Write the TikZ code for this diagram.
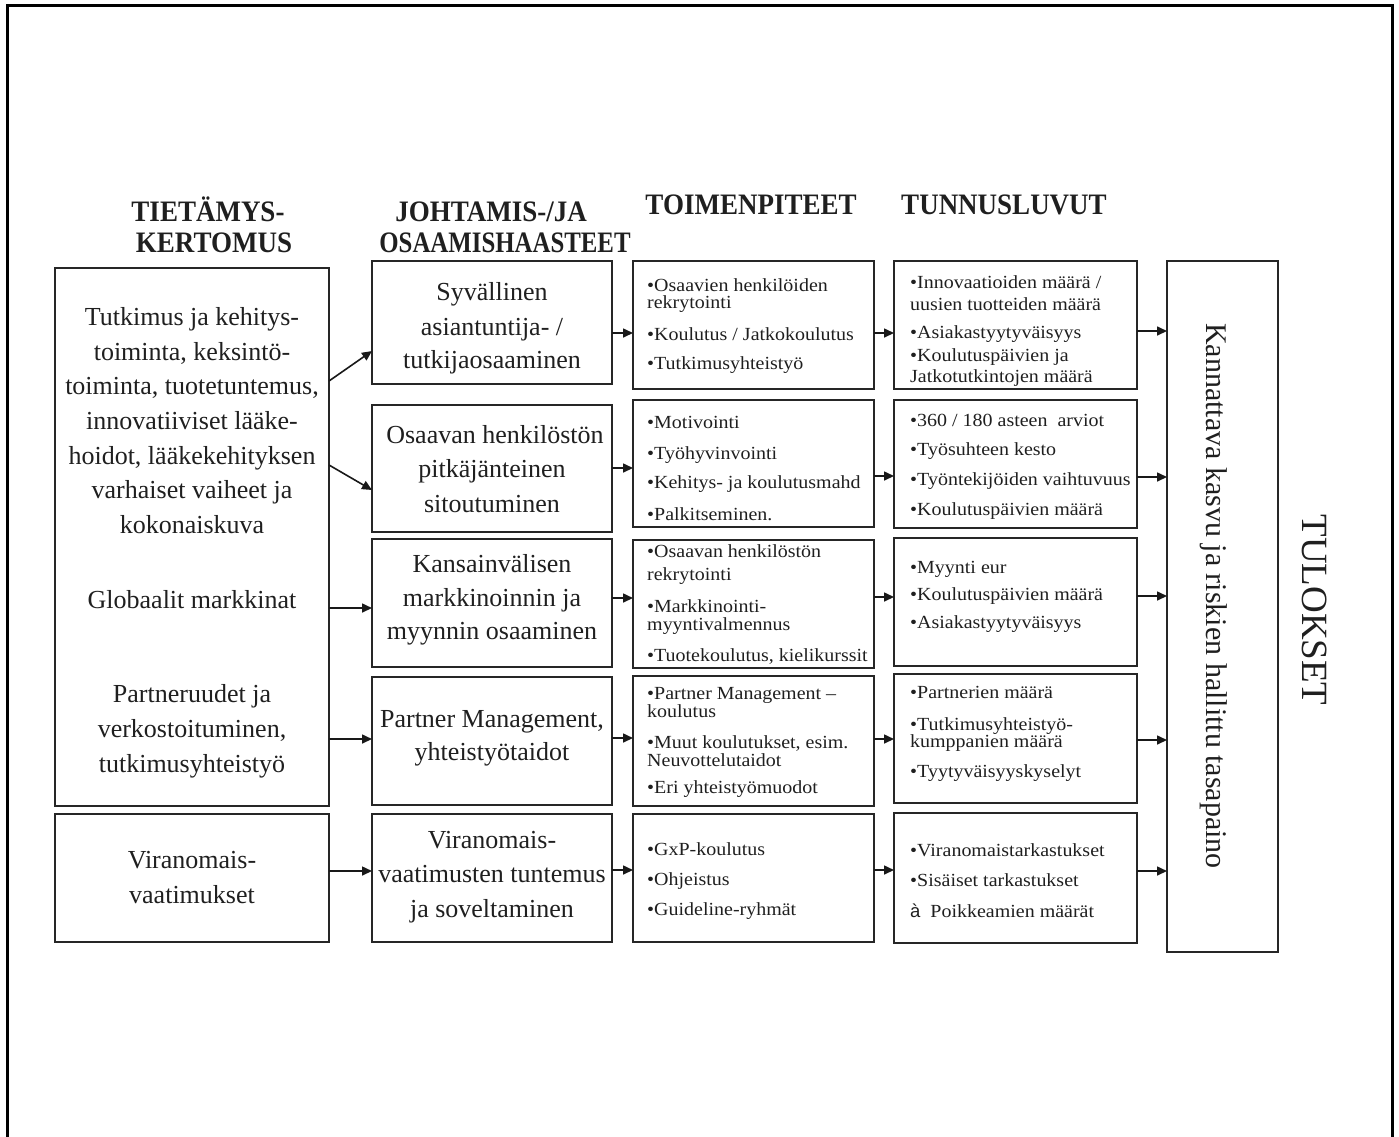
\documentclass[tikz,border=0pt]{standalone}
\usepackage{fontspec}
\setmainfont{Liberation Serif}
\newfontfamily\sansf{Liberation Sans}
\newfontfamily\lstfont[FakeStretch=1.08]{Liberation Serif}
\usetikzlibrary{arrows.meta}

\begin{document}
\begin{tikzpicture}[x=1pt,y=-1pt,
  box/.style={draw=black!85, line width=1.4pt, inner sep=0pt, outer sep=0pt},
  arr/.style={draw=black!90, line width=1.6pt, -{Triangle[length=10pt,width=9pt]}},
  big/.style={font=\fontsize{26}{30}\selectfont, text=black!88, anchor=base, inner sep=0pt},
  lst/.style={font=\lstfont\fontsize{18.5}{20}\selectfont, text=black!88, anchor=base west, inner sep=0pt},
  head/.style={font=\bfseries\fontsize{27}{32}\selectfont, text=black!88, anchor=base, inner sep=0pt},
]
\useasboundingbox (0,0) rectangle (1399,1136);

% outer frame (open at the bottom)
\draw[line width=3pt, line cap=rect] (7,1140) -- (7,5) -- (1392,5) -- (1392,1140);

% column headings
\node[head] (h1a) at (208,221) {\scalebox{1}[1.1]{TIETÄMYS-}};
\node[head] (h1b) at (214,252) {\scalebox{1}[1.1]{KERTOMUS}};
\node[head] (h2a) at (491,221) {\scalebox{1}[1.1]{JOHTAMIS-/JA}};
\node[head] (h2b) at (505,252) {\scalebox{0.92}[1.1]{OSAAMISHAASTEET}};
\node[head] (h3) at (751,214) {\scalebox{1}[1.1]{TOIMENPITEET}};
\node[head] (h4) at (1004,214) {\scalebox{1}[1.1]{TUNNUSLUVUT}};

% column 1
\node[box, minimum width=274pt, minimum height=538pt] (k1) at (192,537) {};
\node[box, minimum width=274pt, minimum height=128pt] (k2) at (192,878) {};
% column 2
\node[box, minimum width=240pt, minimum height=123pt] (c2a) at (492,322.5) {};
\node[box, minimum width=240pt, minimum height=127pt] (c2b) at (492,468.5) {};
\node[box, minimum width=240pt, minimum height=128pt] (c2c) at (492,603) {};
\node[box, minimum width=240pt, minimum height=128pt] (c2d) at (492,741) {};
\node[box, minimum width=240pt, minimum height=128pt] (c2e) at (492,878) {};
% column 3
\node[box, minimum width=241pt, minimum height=128pt] (c3a) at (753.5,325) {};
\node[box, minimum width=241pt, minimum height=127pt] (c3b) at (753.5,463.5) {};
\node[box, minimum width=241pt, minimum height=128pt] (c3c) at (753.5,604) {};
\node[box, minimum width=241pt, minimum height=130pt] (c3d) at (753.5,741) {};
\node[box, minimum width=241pt, minimum height=128pt] (c3e) at (753.5,878) {};
% column 4
\node[box, minimum width=243pt, minimum height=128pt] (c4a) at (1015.5,325) {};
\node[box, minimum width=243pt, minimum height=128pt] (c4b) at (1015.5,464) {};
\node[box, minimum width=243pt, minimum height=128pt] (c4c) at (1015.5,602) {};
\node[box, minimum width=243pt, minimum height=129pt] (c4d) at (1015.5,738.5) {};
\node[box, minimum width=243pt, minimum height=130pt] (c4e) at (1015.5,878) {};
% result box
\node[box, minimum width=111pt, minimum height=691pt] (res) at (1222.5,606.5) {};

% column 1 texts
\node[big] (t1a) at (192,325) {Tutkimus ja kehitys-};
\node[big] (t1b) at (192,360) {toiminta, keksintö-};
\node[big] (t1c) at (192,394) {toiminta, tuotetuntemus,};
\node[big] (t1d) at (192,429) {innovatiiviset lääke-};
\node[big] (t1e) at (192,464) {hoidot, lääkekehityksen};
\node[big] (t1f) at (192,498) {varhaiset vaiheet ja};
\node[big] (t1g) at (192,533) {kokonaiskuva};
\node[big] (t1h) at (192,608) {Globaalit markkinat};
\node[big] (t1i) at (192,702) {Partneruudet ja};
\node[big] (t1j) at (192,737) {verkostoituminen,};
\node[big] (t1k) at (192,772) {tutkimusyhteistyö};
\node[big] (t1l) at (192,868) {Viranomais-};
\node[big] (t1m) at (192,903) {vaatimukset};

% column 2 texts
\node[big] (t2a) at (492,300) {Syvällinen};
\node[big] (t2b) at (492,335) {asiantuntija- /};
\node[big] (t2c) at (492,368) {tutkijaosaaminen};
\node[big] (t2d) at (495,443) {Osaavan henkilöstön};
\node[big] (t2e) at (492,477) {pitkäjänteinen};
\node[big] (t2f) at (492,512) {sitoutuminen};
\node[big] (t2g) at (492,572) {Kansainvälisen};
\node[big] (t2h) at (492,606) {markkinoinnin ja};
\node[big] (t2i) at (492,639) {myynnin osaaminen};
\node[big] (t2j) at (492,727) {Partner Management,};
\node[big] (t2k) at (492,760) {yhteistyötaidot};
\node[big] (t2l) at (492,848) {Viranomais-};
\node[big] (t2m) at (492,882) {vaatimusten tuntemus};
\node[big] (t2n) at (492,917) {ja soveltaminen};

% column 3 texts
\node[lst] (t3a) at (647,291) {•Osaavien henkilöiden};
\node[lst] (t3b) at (647,308) {rekrytointi};
\node[lst] (t3c) at (647,340) {•Koulutus / Jatkokoulutus};
\node[lst] (t3d) at (647,369) {•Tutkimusyhteistyö};
\node[lst] (t3e) at (647,428) {•Motivointi};
\node[lst] (t3f) at (647,459) {•Työhyvinvointi};
\node[lst] (t3g) at (647,488) {•Kehitys- ja koulutusmahd};
\node[lst] (t3h) at (647,520) {•Palkitseminen.};
\node[lst] (t3i) at (647,557) {•Osaavan henkilöstön};
\node[lst] (t3j) at (647,580) {rekrytointi};
\node[lst] (t3k) at (647,612) {•Markkinointi-};
\node[lst] (t3l) at (647,630) {myyntivalmennus};
\node[lst] (t3m) at (647,661) {•Tuotekoulutus, kielikurssit};
\node[lst] (t3n) at (647,699) {•Partner Management –};
\node[lst] (t3o) at (647,717) {koulutus};
\node[lst] (t3p) at (647,748) {•Muut koulutukset, esim.};
\node[lst] (t3q) at (647,766) {Neuvottelutaidot};
\node[lst] (t3r) at (647,793) {•Eri yhteistyömuodot};
\node[lst] (t3s) at (647,855) {•GxP-koulutus};
\node[lst] (t3t) at (647,885) {•Ohjeistus};
\node[lst] (t3u) at (647,915) {•Guideline-ryhmät};

% column 4 texts
\node[lst] (t4a) at (910,288) {•Innovaatioiden määrä /};
\node[lst] (t4b) at (910,310) {uusien tuotteiden määrä};
\node[lst] (t4c) at (910,338) {•Asiakastyytyväisyys};
\node[lst] (t4d) at (910,361) {•Koulutuspäivien ja};
\node[lst] (t4e) at (910,382) {Jatkotutkintojen määrä};
\node[lst] (t4f) at (910,426) {•360 / 180 asteen\ \ arviot};
\node[lst] (t4g) at (910,455) {•Työsuhteen kesto};
\node[lst] (t4h) at (910,485) {•Työntekijöiden vaihtuvuus};
\node[lst] (t4i) at (910,515) {•Koulutuspäivien määrä};
\node[lst] (t4j) at (910,573) {•Myynti eur};
\node[lst] (t4k) at (910,600) {•Koulutuspäivien määrä};
\node[lst] (t4l) at (910,628) {•Asiakastyytyväisyys};
\node[lst] (t4m) at (910,698) {•Partnerien määrä};
\node[lst] (t4n) at (910,730) {•Tutkimusyhteistyö-};
\node[lst] (t4o) at (910,747) {kumppanien määrä};
\node[lst] (t4p) at (910,777) {•Tyytyväisyyskyselyt};
\node[lst] (t4q) at (910,856) {•Viranomaistarkastukset};
\node[lst] (t4r) at (910,886) {•Sisäiset tarkastukset};
\node[lst] (t4s) at (910,917) {{\sansf à}\ \ Poikkeamien määrät};

% result texts
\node[font=\fontsize{30}{34}\selectfont, text=black!88, rotate=-90, inner sep=0pt] (t5) at (1214,596) {Kannattava kasvu ja riskien hallittu tasapaino};
\node[font=\fontsize{37}{40}\selectfont, text=black!88, rotate=-90, inner sep=0pt] (t6) at (1315,610) {TULOKSET};

% connectors: column 1 -> column 2
\draw[arr] (k1.east |- 0,381) -- (c2a.west |- 0,351);
\draw[arr] (k1.east |- 0,465) -- (c2b.west |- 0,490);
\draw[arr] (k1.east |- 0,608) -- (c2c.west |- 0,608);
\draw[arr] (k1.east |- 0,739) -- (c2d.west |- 0,739);
\draw[arr] (k2.east |- 0,871) -- (c2e.west |- 0,871);
% column 2 -> column 3
\draw[arr] (c2a.east |- 0,333) -- (c3a.west |- 0,333);
\draw[arr] (c2b.east |- 0,468) -- (c3b.west |- 0,468);
\draw[arr] (c2c.east |- 0,598) -- (c3c.west |- 0,598);
\draw[arr] (c2d.east |- 0,738) -- (c3d.west |- 0,738);
\draw[arr] (c2e.east |- 0,870) -- (c3e.west |- 0,870);
% column 3 -> column 4
\draw[arr] (c3a.east |- 0,333) -- (c4a.west |- 0,333);
\draw[arr] (c3b.east |- 0,476) -- (c4b.west |- 0,476);
\draw[arr] (c3c.east |- 0,597) -- (c4c.west |- 0,597);
\draw[arr] (c3d.east |- 0,739) -- (c4d.west |- 0,739);
\draw[arr] (c3e.east |- 0,870) -- (c4e.west |- 0,870);
% column 4 -> result
\draw[arr] (c4a.east |- 0,331) -- (res.west |- 0,331);
\draw[arr] (c4b.east |- 0,477) -- (res.west |- 0,477);
\draw[arr] (c4c.east |- 0,596) -- (res.west |- 0,596);
\draw[arr] (c4d.east |- 0,740) -- (res.west |- 0,740);
\draw[arr] (c4e.east |- 0,871) -- (res.west |- 0,871);
\end{tikzpicture}
\end{document}
